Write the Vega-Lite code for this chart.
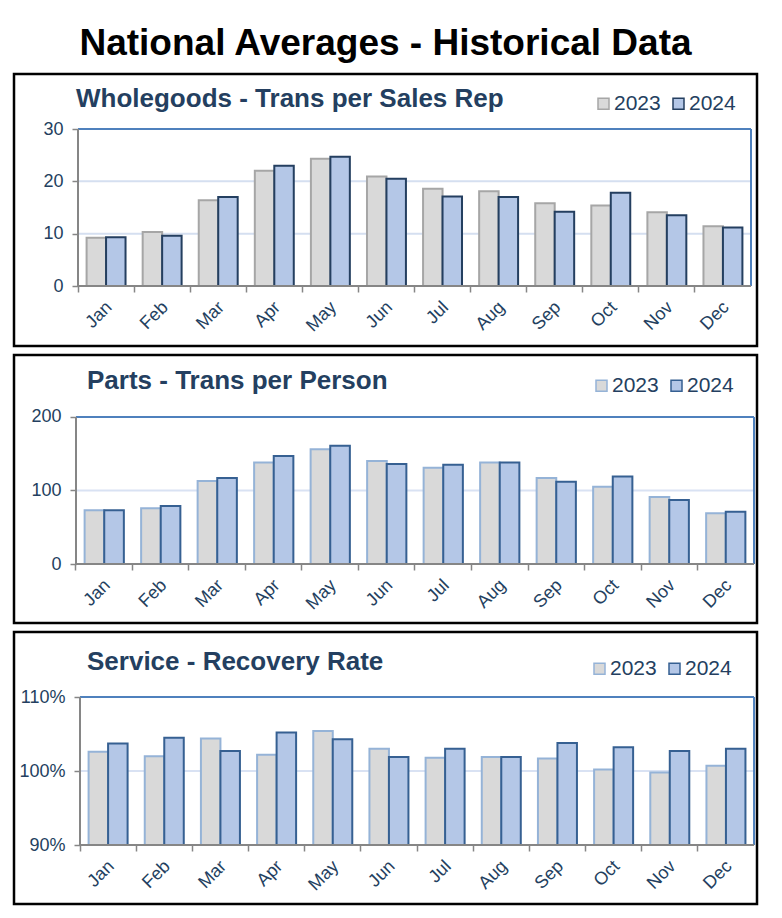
{
  "$schema": "https://vega.github.io/schema/vega-lite/v6.json",
  "background": "white",
  "padding": {"left": 12, "top": 24, "right": 0, "bottom": 0},
  "title": {"text": "National Averages - Historical Data", "fontSize": 37, "fontWeight": "bold", "color": "#000000", "anchor": "middle", "offset": 10, "font": "Liberation Sans"},
  "config": {
    "font": "Liberation Sans",
    "view": {"stroke": "#000000", "strokeWidth": 2.5, "fill": "white"}
  },
  "datasets": {
    "wg": [
      {"month": "Jan", "year": "2023", "value": 9.2}, {"month": "Jan", "year": "2024", "value": 9.3},
      {"month": "Feb", "year": "2023", "value": 10.3}, {"month": "Feb", "year": "2024", "value": 9.6},
      {"month": "Mar", "year": "2023", "value": 16.4}, {"month": "Mar", "year": "2024", "value": 17.0},
      {"month": "Apr", "year": "2023", "value": 22.0}, {"month": "Apr", "year": "2024", "value": 23.0},
      {"month": "May", "year": "2023", "value": 24.3}, {"month": "May", "year": "2024", "value": 24.7},
      {"month": "Jun", "year": "2023", "value": 20.9}, {"month": "Jun", "year": "2024", "value": 20.5},
      {"month": "Jul", "year": "2023", "value": 18.6}, {"month": "Jul", "year": "2024", "value": 17.1},
      {"month": "Aug", "year": "2023", "value": 18.1}, {"month": "Aug", "year": "2024", "value": 17.0},
      {"month": "Sep", "year": "2023", "value": 15.8}, {"month": "Sep", "year": "2024", "value": 14.2},
      {"month": "Oct", "year": "2023", "value": 15.4}, {"month": "Oct", "year": "2024", "value": 17.8},
      {"month": "Nov", "year": "2023", "value": 14.1}, {"month": "Nov", "year": "2024", "value": 13.5},
      {"month": "Dec", "year": "2023", "value": 11.4}, {"month": "Dec", "year": "2024", "value": 11.2}
    ],
    "parts": [
      {"month": "Jan", "year": "2023", "value": 73}, {"month": "Jan", "year": "2024", "value": 73},
      {"month": "Feb", "year": "2023", "value": 76}, {"month": "Feb", "year": "2024", "value": 79},
      {"month": "Mar", "year": "2023", "value": 113}, {"month": "Mar", "year": "2024", "value": 117},
      {"month": "Apr", "year": "2023", "value": 138}, {"month": "Apr", "year": "2024", "value": 147},
      {"month": "May", "year": "2023", "value": 156}, {"month": "May", "year": "2024", "value": 161},
      {"month": "Jun", "year": "2023", "value": 140}, {"month": "Jun", "year": "2024", "value": 136},
      {"month": "Jul", "year": "2023", "value": 131}, {"month": "Jul", "year": "2024", "value": 135},
      {"month": "Aug", "year": "2023", "value": 138}, {"month": "Aug", "year": "2024", "value": 138},
      {"month": "Sep", "year": "2023", "value": 117}, {"month": "Sep", "year": "2024", "value": 112},
      {"month": "Oct", "year": "2023", "value": 105}, {"month": "Oct", "year": "2024", "value": 119},
      {"month": "Nov", "year": "2023", "value": 91}, {"month": "Nov", "year": "2024", "value": 87},
      {"month": "Dec", "year": "2023", "value": 69}, {"month": "Dec", "year": "2024", "value": 71}
    ],
    "svc": [
      {"month": "Jan", "year": "2023", "value": 1.026}, {"month": "Jan", "year": "2024", "value": 1.037},
      {"month": "Feb", "year": "2023", "value": 1.020}, {"month": "Feb", "year": "2024", "value": 1.045},
      {"month": "Mar", "year": "2023", "value": 1.044}, {"month": "Mar", "year": "2024", "value": 1.027},
      {"month": "Apr", "year": "2023", "value": 1.022}, {"month": "Apr", "year": "2024", "value": 1.052},
      {"month": "May", "year": "2023", "value": 1.054}, {"month": "May", "year": "2024", "value": 1.043},
      {"month": "Jun", "year": "2023", "value": 1.030}, {"month": "Jun", "year": "2024", "value": 1.019},
      {"month": "Jul", "year": "2023", "value": 1.018}, {"month": "Jul", "year": "2024", "value": 1.030},
      {"month": "Aug", "year": "2023", "value": 1.019}, {"month": "Aug", "year": "2024", "value": 1.019},
      {"month": "Sep", "year": "2023", "value": 1.017}, {"month": "Sep", "year": "2024", "value": 1.038},
      {"month": "Oct", "year": "2023", "value": 1.002}, {"month": "Oct", "year": "2024", "value": 1.032},
      {"month": "Nov", "year": "2023", "value": 0.998}, {"month": "Nov", "year": "2024", "value": 1.027},
      {"month": "Dec", "year": "2023", "value": 1.007}, {"month": "Dec", "year": "2024", "value": 1.030}
    ]
  },
  "spacing": 5,
  "resolve": {"scale": {"fill": "independent", "stroke": "independent", "xOffset": "independent"}},
  "vconcat": [
    {
      "width": 743, "height": 272,
      "title": {"text": "Wholegoods - Trans per Sales Rep", "anchor": "start", "frame": "group", "offset": -38, "dx": 62, "fontSize": 26, "fontWeight": "bold", "color": "#243F60"},
      "resolve": {"axis": {"x": "independent"}},
      "layer": [
        {"data": {"values": [{"g": 10}, {"g": 20}]}, "mark": {"type": "rule", "color": "#D5DFF0", "strokeWidth": 2},
         "encoding": {"y": {"field": "g", "type": "quantitative"},
                      "x": {"datum": "Jan", "type": "nominal", "bandPosition": 0, "axis": null, "scale": {"domain": ["Jan","Feb","Mar","Apr","May","Jun","Jul","Aug","Sep","Oct","Nov","Dec"]}},
                      "x2": {"datum": "Dec", "bandPosition": 1}}},
        {"data": {"name": "wg"}, "mark": {"type": "bar", "strokeWidth": 2},
         "encoding": {
           "x": {"field": "month", "type": "nominal", "scale": {"domain": ["Jan","Feb","Mar","Apr","May","Jun","Jul","Aug","Sep","Oct","Nov","Dec"], "paddingInner": 0, "paddingOuter": 0.6245, "align": 0.914},
                 "axis": {"orient": "bottom", "offset": -60, "ticks": false, "domain": false, "labelAngle": -45, "labelFontSize": 18, "labelColor": "#243F60", "labelPadding": 12, "labelOffset": -3, "title": null}},
           "xOffset": {"field": "year", "type": "nominal", "scale": {"domain": ["2023", "2024"], "paddingInner": 0, "paddingOuter": 0.44}},
           "y": {"field": "value", "type": "quantitative", "scale": {"domain": [-11.465, 40.51], "nice": false, "zero": false},
                 "axis": {"orient": "left", "values": [0, 10, 20, 30], "offset": -64, "domain": false, "grid": false, "tickSize": 6, "tickColor": "#868686", "tickWidth": 1.5, "labelFontSize": 18, "labelColor": "#243F60", "labelPadding": 9, "title": null}},
           "y2": {"datum": 0},
           "fill": {"field": "year", "type": "nominal", "scale": {"domain": ["2023", "2024"], "range": ["#D9D9D9", "#B4C7E7"]},
                    "legend": {"orient": "none", "legendX": 579, "legendY": 19, "direction": "horizontal", "title": null, "symbolType": "square", "symbolSize": 121, "symbolStrokeWidth": 1.5, "labelFontSize": 21, "labelColor": "#243F60", "labelOffset": 0, "columnPadding": 7, "padding": 0}},
           "stroke": {"field": "year", "type": "nominal", "scale": {"domain": ["2023", "2024"], "range": ["#A6A6A6", "#243F60"]},
                    "legend": {"orient": "none", "legendX": 579, "legendY": 19, "direction": "horizontal", "title": null, "symbolType": "square", "symbolSize": 121, "symbolStrokeWidth": 1.5, "labelFontSize": 21, "labelColor": "#243F60", "labelOffset": 0, "columnPadding": 7, "padding": 0}}
         }},
        {"data": {"values": [{"g": 30}]}, "mark": {"type": "rule", "color": "#4F81BD", "strokeWidth": 2},
         "encoding": {"y": {"field": "g", "type": "quantitative"},
                      "x": {"datum": "Jan", "type": "nominal", "bandPosition": 0, "axis": null, "scale": {"domain": ["Jan","Feb","Mar","Apr","May","Jun","Jul","Aug","Sep","Oct","Nov","Dec"]}},
                      "x2": {"datum": "Dec", "bandPosition": 1}}},
        {"data": {"values": [{"g": 30}]}, "mark": {"type": "rule", "color": "#4F81BD", "strokeWidth": 2},
         "encoding": {"x": {"datum": "Dec", "type": "nominal", "bandPosition": 1, "axis": null, "scale": {"domain": ["Jan","Feb","Mar","Apr","May","Jun","Jul","Aug","Sep","Oct","Nov","Dec"]}},
                      "y": {"datum": 0, "type": "quantitative"}, "y2": {"datum": 30}}},
        {"data": {"values": [{"g": 30}]}, "mark": {"type": "rule", "color": "#868686", "strokeWidth": 2},
         "encoding": {"x": {"datum": "Jan", "type": "nominal", "bandPosition": 0, "axis": null, "scale": {"domain": ["Jan","Feb","Mar","Apr","May","Jun","Jul","Aug","Sep","Oct","Nov","Dec"]}},
                      "y": {"datum": 0, "type": "quantitative"}, "y2": {"datum": 30}}},
        {"data": {"values": [{"g": 0}]}, "mark": {"type": "rule", "color": "#868686", "strokeWidth": 2},
         "encoding": {"y": {"field": "g", "type": "quantitative"},
                      "x": {"datum": "Jan", "type": "nominal", "bandPosition": 0, "scale": {"domain": ["Jan","Feb","Mar","Apr","May","Jun","Jul","Aug","Sep","Oct","Nov","Dec"]},
                            "axis": {"orient": "bottom", "offset": -60, "bandPosition": 0, "labels": false, "domain": false, "ticks": true, "tickSize": 6, "tickColor": "#868686", "tickWidth": 1.5, "grid": false, "title": null}},
                      "x2": {"datum": "Dec", "bandPosition": 1}}}
      ]
    },
    {
      "width": 743, "height": 268,
      "title": {"text": "Parts - Trans per Person", "anchor": "start", "frame": "group", "offset": -39, "dx": 73, "fontSize": 26, "fontWeight": "bold", "color": "#243F60"},
      "resolve": {"axis": {"x": "independent"}},
      "layer": [
        {"data": {"values": [{"g": 100}]}, "mark": {"type": "rule", "color": "#D9E2F3", "strokeWidth": 2},
         "encoding": {"y": {"field": "g", "type": "quantitative"},
                      "x": {"datum": "Jan", "type": "nominal", "bandPosition": 0, "axis": null, "scale": {"domain": ["Jan","Feb","Mar","Apr","May","Jun","Jul","Aug","Sep","Oct","Nov","Dec"]}},
                      "x2": {"datum": "Dec", "bandPosition": 1}}},
        {"data": {"name": "parts"}, "mark": {"type": "bar", "strokeWidth": 2},
         "encoding": {
           "x": {"field": "month", "type": "nominal", "scale": {"domain": ["Jan","Feb","Mar","Apr","May","Jun","Jul","Aug","Sep","Oct","Nov","Dec"], "paddingInner": 0, "paddingOuter": 0.575, "align": 0.954},
                 "axis": {"orient": "bottom", "offset": -59, "ticks": false, "domain": false, "labelAngle": -45, "labelFontSize": 18, "labelColor": "#243F60", "labelPadding": 12, "labelOffset": -3, "title": null}},
           "xOffset": {"field": "year", "type": "nominal", "scale": {"domain": ["2023", "2024"], "paddingInner": 0, "paddingOuter": 0.44}},
           "y": {"field": "value", "type": "quantitative", "scale": {"domain": [-80.27, 284.35], "nice": false, "zero": false},
                 "axis": {"orient": "left", "values": [0, 100, 200], "offset": -62, "domain": false, "grid": false, "tickSize": 6, "tickColor": "#868686", "tickWidth": 1.5, "labelFontSize": 18, "labelColor": "#243F60", "labelPadding": 9, "title": null}},
           "y2": {"datum": 0},
           "fill": {"field": "year", "type": "nominal", "scale": {"domain": ["2023", "2024"], "range": ["#D9D9D9", "#B4C7E7"]},
                    "legend": {"orient": "none", "legendX": 577, "legendY": 20, "direction": "horizontal", "title": null, "symbolType": "square", "symbolSize": 121, "symbolStrokeWidth": 1.5, "labelFontSize": 21, "labelColor": "#243F60", "labelOffset": 0, "columnPadding": 7, "padding": 0}},
           "stroke": {"field": "year", "type": "nominal", "scale": {"domain": ["2023", "2024"], "range": ["#95B3D7", "#366092"]},
                    "legend": {"orient": "none", "legendX": 577, "legendY": 20, "direction": "horizontal", "title": null, "symbolType": "square", "symbolSize": 121, "symbolStrokeWidth": 1.5, "labelFontSize": 21, "labelColor": "#243F60", "labelOffset": 0, "columnPadding": 7, "padding": 0}}
         }},
        {"data": {"values": [{"g": 200}]}, "mark": {"type": "rule", "color": "#4F81BD", "strokeWidth": 2},
         "encoding": {"y": {"field": "g", "type": "quantitative"},
                      "x": {"datum": "Jan", "type": "nominal", "bandPosition": 0, "axis": null, "scale": {"domain": ["Jan","Feb","Mar","Apr","May","Jun","Jul","Aug","Sep","Oct","Nov","Dec"]}},
                      "x2": {"datum": "Dec", "bandPosition": 1}}},
        {"data": {"values": [{"g": 200}]}, "mark": {"type": "rule", "color": "#4F81BD", "strokeWidth": 2},
         "encoding": {"x": {"datum": "Dec", "type": "nominal", "bandPosition": 1, "axis": null, "scale": {"domain": ["Jan","Feb","Mar","Apr","May","Jun","Jul","Aug","Sep","Oct","Nov","Dec"]}},
                      "y": {"datum": 0, "type": "quantitative"}, "y2": {"datum": 200}}},
        {"data": {"values": [{"g": 200}]}, "mark": {"type": "rule", "color": "#868686", "strokeWidth": 2},
         "encoding": {"x": {"datum": "Jan", "type": "nominal", "bandPosition": 0, "axis": null, "scale": {"domain": ["Jan","Feb","Mar","Apr","May","Jun","Jul","Aug","Sep","Oct","Nov","Dec"]}},
                      "y": {"datum": 0, "type": "quantitative"}, "y2": {"datum": 200}}},
        {"data": {"values": [{"g": 0}]}, "mark": {"type": "rule", "color": "#868686", "strokeWidth": 2},
         "encoding": {"y": {"field": "g", "type": "quantitative"},
                      "x": {"datum": "Jan", "type": "nominal", "bandPosition": 0, "scale": {"domain": ["Jan","Feb","Mar","Apr","May","Jun","Jul","Aug","Sep","Oct","Nov","Dec"]},
                            "axis": {"orient": "bottom", "offset": -59, "bandPosition": 0, "labels": false, "domain": false, "ticks": true, "tickSize": 6, "tickColor": "#868686", "tickWidth": 1.5, "grid": false, "title": null}},
                      "x2": {"datum": "Dec", "bandPosition": 1}}}
      ]
    },
    {
      "width": 743, "height": 272,
      "title": {"text": "Service - Recovery Rate", "anchor": "start", "frame": "group", "offset": -43, "dx": 73, "fontSize": 26, "fontWeight": "bold", "color": "#243F60"},
      "resolve": {"axis": {"x": "independent"}},
      "layer": [
        {"data": {"values": [{"g": 1.0}]}, "mark": {"type": "rule", "color": "#D9E2F3", "strokeWidth": 2},
         "encoding": {"y": {"field": "g", "type": "quantitative"},
                      "x": {"datum": "Jan", "type": "nominal", "bandPosition": 0, "axis": null, "scale": {"domain": ["Jan","Feb","Mar","Apr","May","Jun","Jul","Aug","Sep","Oct","Nov","Dec"]}},
                      "x2": {"datum": "Dec", "bandPosition": 1}}},
        {"data": {"name": "svc"}, "mark": {"type": "bar", "strokeWidth": 2},
         "encoding": {
           "x": {"field": "month", "type": "nominal", "scale": {"domain": ["Jan","Feb","Mar","Apr","May","Jun","Jul","Aug","Sep","Oct","Nov","Dec"], "paddingInner": 0, "paddingOuter": 0.614, "align": 0.957},
                 "axis": {"orient": "bottom", "offset": -59, "ticks": false, "domain": false, "labelAngle": -45, "labelFontSize": 18, "labelColor": "#243F60", "labelPadding": 12, "labelOffset": -3, "title": null}},
           "xOffset": {"field": "year", "type": "nominal", "scale": {"domain": ["2023", "2024"], "paddingInner": 0, "paddingOuter": 0.44}},
           "y": {"field": "value", "type": "quantitative", "scale": {"domain": [0.82027, 1.18784], "nice": false, "zero": false},
                 "axis": {"orient": "left", "values": [0.9, 1.0, 1.1], "format": ".0%", "offset": -66, "domain": false, "grid": false, "tickSize": 6, "tickColor": "#868686", "tickWidth": 1.5, "labelFontSize": 18, "labelColor": "#243F60", "labelPadding": 9, "title": null}},
           "y2": {"datum": 0.9},
           "fill": {"field": "year", "type": "nominal", "scale": {"domain": ["2023", "2024"], "range": ["#D9D9D9", "#B4C7E7"]},
                    "legend": {"orient": "none", "legendX": 575, "legendY": 26, "direction": "horizontal", "title": null, "symbolType": "square", "symbolSize": 121, "symbolStrokeWidth": 1.5, "labelFontSize": 21, "labelColor": "#243F60", "labelOffset": 0, "columnPadding": 7, "padding": 0}},
           "stroke": {"field": "year", "type": "nominal", "scale": {"domain": ["2023", "2024"], "range": ["#95B3D7", "#366092"]},
                    "legend": {"orient": "none", "legendX": 575, "legendY": 26, "direction": "horizontal", "title": null, "symbolType": "square", "symbolSize": 121, "symbolStrokeWidth": 1.5, "labelFontSize": 21, "labelColor": "#243F60", "labelOffset": 0, "columnPadding": 7, "padding": 0}}
         }},
        {"data": {"values": [{"g": 1.1}]}, "mark": {"type": "rule", "color": "#4F81BD", "strokeWidth": 2},
         "encoding": {"y": {"field": "g", "type": "quantitative"},
                      "x": {"datum": "Jan", "type": "nominal", "bandPosition": 0, "axis": null, "scale": {"domain": ["Jan","Feb","Mar","Apr","May","Jun","Jul","Aug","Sep","Oct","Nov","Dec"]}},
                      "x2": {"datum": "Dec", "bandPosition": 1}}},
        {"data": {"values": [{"g": 1.1}]}, "mark": {"type": "rule", "color": "#4F81BD", "strokeWidth": 2},
         "encoding": {"x": {"datum": "Dec", "type": "nominal", "bandPosition": 1, "axis": null, "scale": {"domain": ["Jan","Feb","Mar","Apr","May","Jun","Jul","Aug","Sep","Oct","Nov","Dec"]}},
                      "y": {"datum": 0.9, "type": "quantitative"}, "y2": {"datum": 1.1}}},
        {"data": {"values": [{"g": 1.1}]}, "mark": {"type": "rule", "color": "#868686", "strokeWidth": 2},
         "encoding": {"x": {"datum": "Jan", "type": "nominal", "bandPosition": 0, "axis": null, "scale": {"domain": ["Jan","Feb","Mar","Apr","May","Jun","Jul","Aug","Sep","Oct","Nov","Dec"]}},
                      "y": {"datum": 0.9, "type": "quantitative"}, "y2": {"datum": 1.1}}},
        {"data": {"values": [{"g": 0.9}]}, "mark": {"type": "rule", "color": "#868686", "strokeWidth": 2},
         "encoding": {"y": {"field": "g", "type": "quantitative"},
                      "x": {"datum": "Jan", "type": "nominal", "bandPosition": 0, "scale": {"domain": ["Jan","Feb","Mar","Apr","May","Jun","Jul","Aug","Sep","Oct","Nov","Dec"]},
                            "axis": {"orient": "bottom", "offset": -59, "bandPosition": 0, "labels": false, "domain": false, "ticks": true, "tickSize": 6, "tickColor": "#868686", "tickWidth": 1.5, "grid": false, "title": null}},
                      "x2": {"datum": "Dec", "bandPosition": 1}}}
      ]
    }
  ]
}
